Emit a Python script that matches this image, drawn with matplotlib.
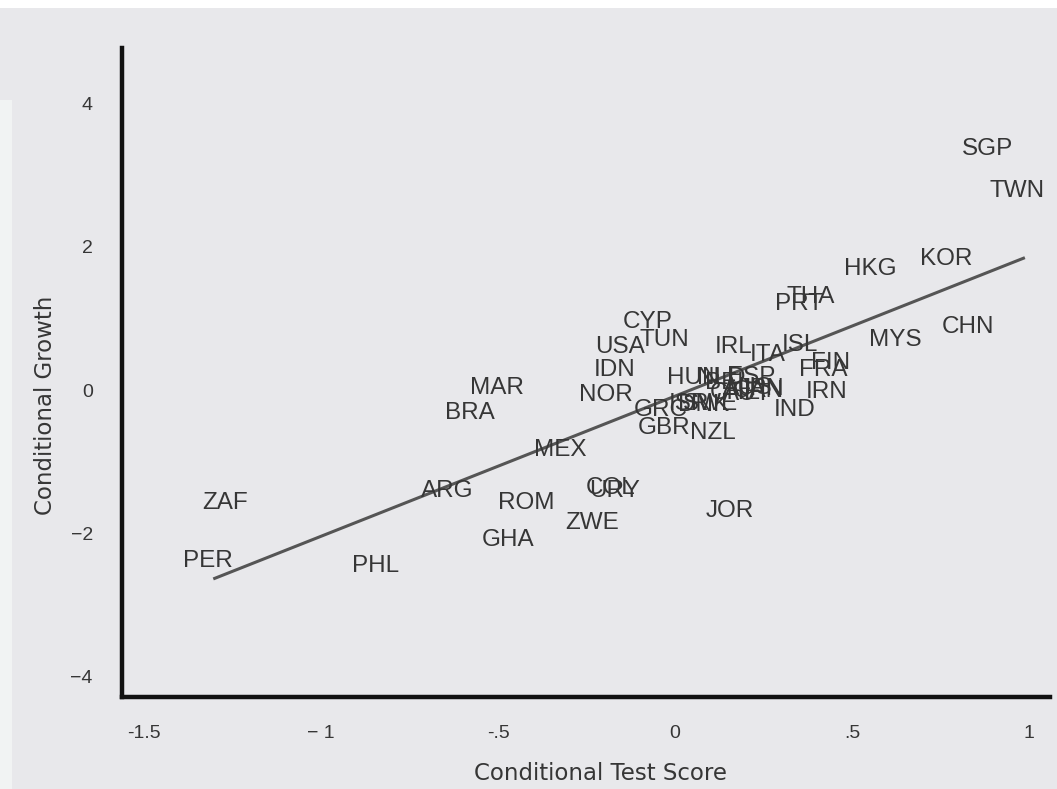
import matplotlib
matplotlib.use("Agg")
import matplotlib.pyplot as plt
from matplotlib.patches import Rectangle

# ---- data ----
countries = ["SGP", "TWN", "KOR", "HKG", "CHN", "MYS", "THA", "PRT",
             "CYP", "TUN", "USA", "IDN", "NOR", "MAR", "BRA", "MEX",
             "ARG", "ROM", "GHA", "ZWE", "COL", "URY", "ZAF", "PER",
             "PHL", "JOR", "IRL", "ITA", "ISL", "FIN", "FRA", "IRN",
             "IND", "GBR", "NZL", "HUN", "NLD", "BEL", "ESP", "AUS",
             "CHE", "JPN", "SWE", "GRC", "ISR", "DNK", "AUT", "CAN"]
test_score = [0.884, 0.966, 0.766, 0.553, 0.828, 0.624, 0.384, 0.35,
              -0.076, -0.031, -0.155, -0.172, -0.195, -0.503, -0.579, -0.325,
              -0.644, -0.421, -0.472, -0.234, -0.183, -0.172, -1.271, -1.319,
              -0.845, 0.155, 0.167, 0.262, 0.353, 0.440, 0.418, 0.429,
              0.339, -0.031, 0.107, 0.052, 0.130, 0.150, 0.215, 0.205,
              0.170, 0.245, 0.100, -0.040, 0.040, 0.080, 0.205, 0.235]
growth = [3.41, 2.81, 1.87, 1.73, 0.92, 0.73, 1.34, 1.24,
          0.99, 0.73, 0.64, 0.31, -0.04, 0.07, -0.29, -0.81,
          -1.38, -1.55, -2.06, -1.83, -1.33, -1.38, -1.55, -2.35,
          -2.43, -1.65, 0.63, 0.52, 0.67, 0.41, 0.31, 0.01,
          -0.25, -0.49, -0.56, 0.20, 0.20, 0.14, 0.22, 0.07,
          0.00, 0.05, -0.16, -0.24, -0.16, -0.18, -0.02, 0.02]

fit_x = [-1.305, 0.989]
fit_y = [-2.64, 1.85]

x_ticks = [-1.5, -1.0, -0.5, 0.0, 0.5, 1.0]
x_ticklabels = ["-1.5", "\u2212 1", "-.5", "0", ".5", "1"]
y_ticks = [-4, -2, 0, 2, 4]
y_ticklabels = ["\u22124", "\u22122", "0", "2", "4"]

# ---- figure ----
bg = "#E8E8EB"
txt = "#363636"
fig = plt.figure(figsize=(10.57, 7.89), dpi=100, facecolor=bg)
# white top strip and pale left strip of the scan
fig.patches.append(Rectangle((0, 1 - 8 / 789), 1, 8 / 789, transform=fig.transFigure,
                             facecolor="white", edgecolor="none", zorder=0))
fig.patches.append(Rectangle((0, 0), 12 / 1057, 1 - 100 / 789, transform=fig.transFigure,
                             facecolor="#F1F3F3", edgecolor="none", zorder=0))

ax = fig.add_axes([122 / 1057, 1 - 697 / 789, (1050 - 122) / 1057, (697 - 48) / 789])
ax.set_facecolor(bg)
ax.set_xlim(-1.563, 1.06)
ax.set_ylim(-4.29, 4.78)

for s in ["top", "right"]:
    ax.spines[s].set_visible(False)
for s in ["left", "bottom"]:
    ax.spines[s].set_linewidth(3.2)
    ax.spines[s].set_color("#111111")

ax.set_xticks(x_ticks)
ax.set_xticklabels(x_ticklabels)
ax.set_yticks(y_ticks)
ax.set_yticklabels(y_ticklabels)
ax.tick_params(length=0, labelsize=14, labelcolor=txt)
ax.tick_params(axis="x", pad=20)
ax.tick_params(axis="y", pad=21)
for lab in ax.get_xticklabels() + ax.get_yticklabels():
    lab.set_family("Liberation Sans")

ax.plot(fit_x, fit_y, color="#555555", linewidth=2.2, solid_capstyle="butt", zorder=1)

for c, xv, yv in zip(countries, test_score, growth):
    ax.text(xv, yv, c, ha="center", va="center_baseline", fontsize=17.5,
            family="Liberation Sans", color=txt, zorder=2)

ax.set_xlabel("Conditional Test Score", fontsize=16.5, family="DejaVu Sans",
              color=txt)
ax.xaxis.set_label_coords(0.516, -0.100)
ax.set_ylabel("Conditional Growth", fontsize=16.5, family="DejaVu Sans",
              color=txt)
ax.yaxis.set_label_coords(-0.070, 0.45)

fig.savefig("out.png", dpi=100, facecolor=bg)
